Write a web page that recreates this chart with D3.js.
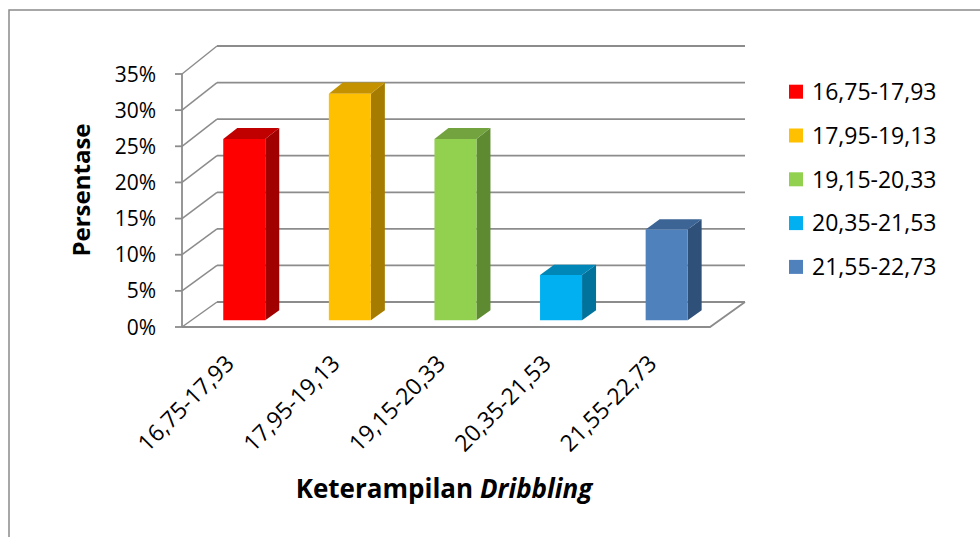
<!DOCTYPE html>
<html><head><meta charset="utf-8">
<script src="https://cdn.jsdelivr.net/npm/d3@7"></script>
<style>
html,body{margin:0;padding:0;background:#fff;}
svg{display:block;font-family:"Open Sans","Noto Sans",sans-serif;}
</style></head>
<body><svg id="chart" width="980" height="537"></svg>
<script>
const categories = ["16,75-17,93","17,95-19,13","19,15-20,33","20,35-21,53","21,55-22,73"];
const values = [25, 31.25, 25, 6.25, 12.5];
const yTicks = [0,5,10,15,20,25,30,35];
const frontColors = ["#FF0000","#FFC000","#92D050","#00B0F0","#4F81BD"];
const topColors   = ["#C00000","#C49200","#72A33E","#0087B8","#3C6494"];
const sideColors  = ["#A00000","#A67C00","#5E8A32","#00729C","#2F5079"];

const svg = d3.select("#chart");

// frame
svg.append("rect").attr("x",9).attr("y",10).attr("width",990).attr("height",560)
  .attr("fill","#fff").attr("stroke","#8a8a8a").attr("stroke-width",1.5);

// scales
const x = d3.scaleBand().domain(categories).range([182,710]).paddingInner(0).paddingOuter(0);
const yFront = d3.scaleLinear().domain([0,35]).range([327,74]);
const yBack  = d3.scaleLinear().domain([0,35]).range([302,46]);
const depthX = d3.scaleLinear().domain([0,1]).range([0,35]);
function pt(xv, v, d){ return [xv + depthX(d), yFront(v)*(1-d) + yBack(v)*d]; }

const gridColor = "#8c8c8c";
const g = svg.append("g");

// back wall gridlines
g.selectAll("line.back").data(yTicks).join("line")
  .attr("x1", pt(x.range()[0],0,1)[0]).attr("x2", pt(x.range()[1],0,1)[0])
  .attr("y1", d=>pt(0,d,1)[1]).attr("y2", d=>pt(0,d,1)[1])
  .attr("stroke",gridColor).attr("stroke-width",1.8);
// side wall gridlines
g.selectAll("line.side").data(yTicks).join("line")
  .attr("x1", x.range()[0]).attr("y1", d=>pt(0,d,0)[1])
  .attr("x2", pt(x.range()[0],0,1)[0]).attr("y2", d=>pt(0,d,1)[1])
  .attr("stroke",gridColor).attr("stroke-width",1.5);
// front axis line
g.append("line").attr("x1",x.range()[0]).attr("x2",x.range()[0])
  .attr("y1",yFront(0)).attr("y2",yFront(35)).attr("stroke",gridColor).attr("stroke-width",1.8);
// tick marks
g.selectAll("line.tick").data(yTicks).join("line")
  .attr("x1", x.range()[0]-7).attr("x2", x.range()[0])
  .attr("y1", d=>yFront(d)).attr("y2", d=>yFront(d))
  .attr("stroke",gridColor).attr("stroke-width",1.8);
// floor front edge & right edge
const fr = pt(x.range()[1],0,0), br = pt(x.range()[1],0,1);
g.append("polyline")
  .attr("points", [[x.range()[0],yFront(0)], fr, br].map(p=>p.join(",")).join(" "))
  .attr("fill","none").attr("stroke",gridColor).attr("stroke-width",1.8);

// bars
const d0 = 0.27, d1 = 0.67, bw = 42;
const bars = svg.append("g");
categories.forEach((c,i)=>{
  const cx = x(c) + x.bandwidth()/2;
  const xl = cx - bw/2, xr = cx + bw/2, v = values[i];
  const A = pt(xl,v,d0), B = pt(xr,v,d0), C = pt(xr,0,d0), D = pt(xl,0,d0);
  const Bb = pt(xr,v,d1), Cb = pt(xr,0,d1), Ab = pt(xl,v,d1);
  const poly = p => p.map(q=>q.join(",")).join(" ");
  bars.append("polygon").attr("points",poly([B,Bb,Cb,C])).attr("fill",sideColors[i]);
  bars.append("polygon").attr("points",poly([A,Ab,Bb,B])).attr("fill",topColors[i]);
  bars.append("polygon").attr("points",poly([A,B,C,D])).attr("fill",frontColors[i]);
});

// y tick labels
svg.append("g").selectAll("text").data(yTicks).join("text")
  .attr("x",156).attr("y",d=>yFront(d)).attr("dy","0.36em")
  .attr("text-anchor","end").attr("font-size",21).attr("fill","#000")
  .text(d=>d+"%");

// x labels
svg.append("g").selectAll("text").data(categories).join("text")
  .attr("transform", d=>`translate(${x(d)+x.bandwidth()/2-5},${359}) rotate(-45)`)
  .attr("text-anchor","end").attr("font-size",23).attr("fill","#000")
  .attr("dy","0.36em")
  .text(d=>d);

// y title
svg.append("text").attr("transform","translate(90,190) rotate(-90)")
  .attr("text-anchor","middle").attr("font-size",24).attr("font-weight","bold").text("Persentase");

// x title
const xt = svg.append("text").attr("x",444).attr("y",498).attr("text-anchor","middle")
  .attr("font-size",26).attr("font-weight","bold");
xt.append("tspan").text("Keterampilan ");
xt.append("tspan").attr("font-style","italic").text("Dribbling");

// legend
const leg = svg.append("g").selectAll("g").data(categories).join("g")
  .attr("transform",(d,i)=>`translate(789,${91.7+i*43.8})`);
leg.append("rect").attr("x",0).attr("y",-7).attr("width",14).attr("height",14)
  .attr("fill",(d,i)=>frontColors[i]);
leg.append("text").attr("x",23).attr("y",0).attr("dy","0.36em")
  .attr("font-size",23).text(d=>d);
</script></body></html>
